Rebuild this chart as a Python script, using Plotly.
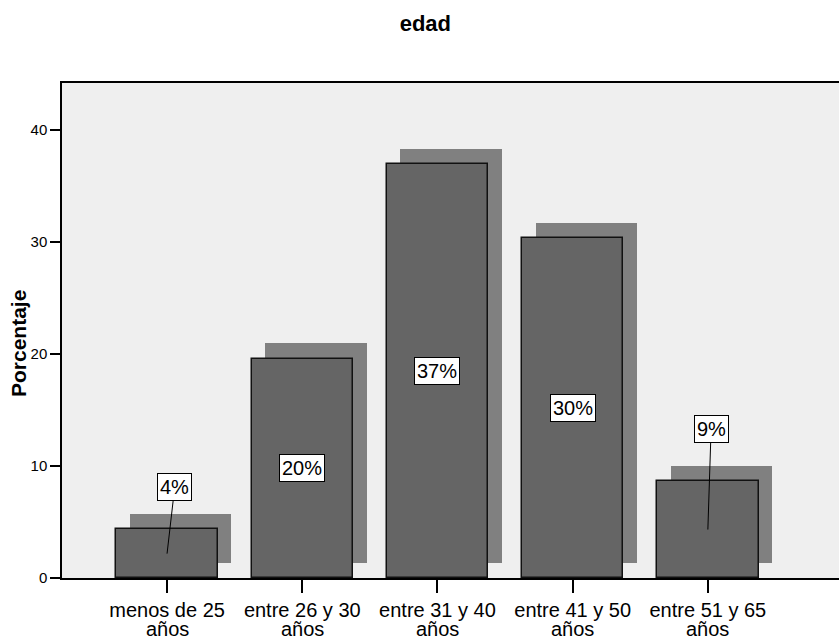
import plotly.graph_objects as go

# Age distribution (percent of respondents)
categories = ["menos de 25 años", "entre 26 y 30 años", "entre 31 y 40 años",
              "entre 41 y 50 años", "entre 51 y 65 años"]
tick_line1 = ["menos de 25", "entre 26 y 30", "entre 31 y 40", "entre 41 y 50", "entre 51 y 65"]
tick_line2 = ["años", "años", "años", "años", "años"]
percent = [4.35, 19.6, 37.0, 30.4, 8.65]
y_ticks = [0, 10, 20, 30, 40]

# which value labels sit outside the bar, with their offset from the bar
outside = {0: (0.057, 3.8), 4: (0.024, 4.65)}

BAR = "#656565"
SHADOW = "#808080"
BG = "#efefef"
FONT = "Liberation Sans, Arial, sans-serif"

BAR_W = 0.75
SHADOW_DX = 0.101
SHADOW_DY = 1.34

fig = go.Figure()

# drop shadow behind each bar
fig.add_trace(go.Bar(
    x=categories, y=percent, base=SHADOW_DY,
    width=BAR_W, offset=-BAR_W / 2 + SHADOW_DX,
    marker=dict(color=SHADOW, line=dict(width=0)),
    hoverinfo="skip", showlegend=False,
))
# main bars
fig.add_trace(go.Bar(
    x=categories, y=percent, width=BAR_W,
    marker=dict(color=BAR, line=dict(color="#111111", width=1.5)),
    showlegend=False,
))

annotations = []
for i, (cat, v) in enumerate(zip(categories, percent)):
    txt = f"{round(v)}%"
    box = dict(text=txt, font=dict(family=FONT, size=20, color="black"),
               bgcolor="white", bordercolor="black", borderwidth=1, borderpad=2)
    if i in outside:
        dx, dy = outside[i]
        annotations.append(dict(x=i, y=v / 2, xref="x", yref="y",
                                ax=i + dx, ay=v + dy, axref="x", ayref="y",
                                showarrow=True, arrowhead=0, arrowwidth=1,
                                arrowcolor="black", **box))
    else:
        annotations.append(dict(x=i, y=v / 2, xref="x", yref="y",
                                showarrow=False, **box))

# second line of the category labels
for i, t in enumerate(tick_line2):
    annotations.append(dict(x=i, y=-0.104, xref="x", yref="paper",
                            text=t, showarrow=False, yanchor="middle",
                            font=dict(family=FONT, size=20, color="black")))

# rotated y-axis title
annotations.append(dict(x=-0.0566, y=0.4727, xref="paper", yref="paper",
                        xanchor="center", yanchor="middle",
                        text="<b>Porcentaje</b>", textangle=-90, showarrow=False,
                        font=dict(family=FONT, size=21, color="black")))

fig.update_layout(
    width=839, height=639,
    margin=dict(l=62, r=0, t=83, b=61),
    paper_bgcolor="white", plot_bgcolor=BG,
    barmode="overlay", bargap=0,
    title=dict(text="<b>edad</b>", x=0.507, xref="container", xanchor="center",
               y=0.964, yref="container", yanchor="middle",
               font=dict(family=FONT, size=22, color="black")),
    annotations=annotations,
    font=dict(family=FONT, color="black"),
)

fig.update_xaxes(
    type="category", range=[-0.777, 4.97],
    tickmode="array", tickvals=categories, ticktext=tick_line1,
    tickfont=dict(family=FONT, size=20, color="black"),
    ticks="outside", ticklen=13, tickwidth=1.5, tickcolor="black",
    showline=True, linecolor="black", linewidth=1.5, mirror=True,
    showgrid=False, zeroline=False,
)
fig.update_yaxes(
    range=[0, 44.2], tickvals=y_ticks,
    tickfont=dict(family=FONT, size=15, color="black"),
    ticks="outside", ticklen=10, tickwidth=1.5, tickcolor="black",
    showline=True, linecolor="black", linewidth=1.5, mirror=False,
    showgrid=False, zeroline=False,
)

fig.write_html("out.html")
